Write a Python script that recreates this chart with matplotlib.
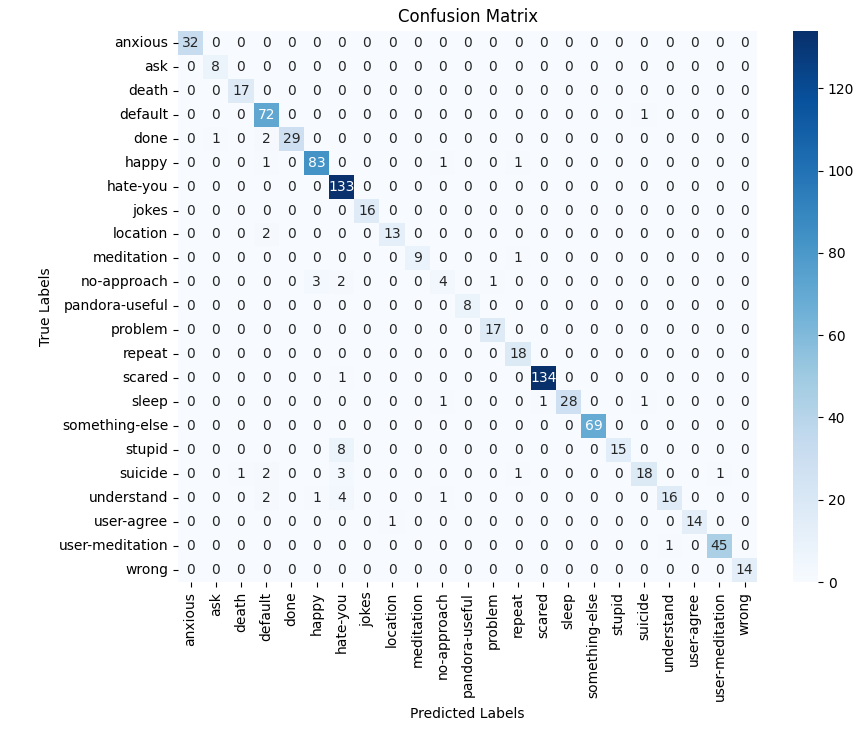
import matplotlib
matplotlib.use("Agg")
import matplotlib.pyplot as plt
import numpy as np
import seaborn as sns

labels = ["anxious", "ask", "death", "default", "done", "happy", "hate-you",
          "jokes", "location", "meditation", "no-approach", "pandora-useful",
          "problem", "repeat", "scared", "sleep", "something-else", "stupid",
          "suicide", "understand", "user-agree", "user-meditation", "wrong"]

# rows = true label, columns = predicted label
cm = np.array([
    [32, 0, 0, 0, 0, 0, 0, 0, 0, 0, 0, 0, 0, 0, 0, 0, 0, 0, 0, 0, 0, 0, 0],
    [0, 8, 0, 0, 0, 0, 0, 0, 0, 0, 0, 0, 0, 0, 0, 0, 0, 0, 0, 0, 0, 0, 0],
    [0, 0, 17, 0, 0, 0, 0, 0, 0, 0, 0, 0, 0, 0, 0, 0, 0, 0, 0, 0, 0, 0, 0],
    [0, 0, 0, 72, 0, 0, 0, 0, 0, 0, 0, 0, 0, 0, 0, 0, 0, 0, 1, 0, 0, 0, 0],
    [0, 1, 0, 2, 29, 0, 0, 0, 0, 0, 0, 0, 0, 0, 0, 0, 0, 0, 0, 0, 0, 0, 0],
    [0, 0, 0, 1, 0, 83, 0, 0, 0, 0, 1, 0, 0, 1, 0, 0, 0, 0, 0, 0, 0, 0, 0],
    [0, 0, 0, 0, 0, 0, 133, 0, 0, 0, 0, 0, 0, 0, 0, 0, 0, 0, 0, 0, 0, 0, 0],
    [0, 0, 0, 0, 0, 0, 0, 16, 0, 0, 0, 0, 0, 0, 0, 0, 0, 0, 0, 0, 0, 0, 0],
    [0, 0, 0, 2, 0, 0, 0, 0, 13, 0, 0, 0, 0, 0, 0, 0, 0, 0, 0, 0, 0, 0, 0],
    [0, 0, 0, 0, 0, 0, 0, 0, 0, 9, 0, 0, 0, 1, 0, 0, 0, 0, 0, 0, 0, 0, 0],
    [0, 0, 0, 0, 0, 3, 2, 0, 0, 0, 4, 0, 1, 0, 0, 0, 0, 0, 0, 0, 0, 0, 0],
    [0, 0, 0, 0, 0, 0, 0, 0, 0, 0, 0, 8, 0, 0, 0, 0, 0, 0, 0, 0, 0, 0, 0],
    [0, 0, 0, 0, 0, 0, 0, 0, 0, 0, 0, 0, 17, 0, 0, 0, 0, 0, 0, 0, 0, 0, 0],
    [0, 0, 0, 0, 0, 0, 0, 0, 0, 0, 0, 0, 0, 18, 0, 0, 0, 0, 0, 0, 0, 0, 0],
    [0, 0, 0, 0, 0, 0, 1, 0, 0, 0, 0, 0, 0, 0, 134, 0, 0, 0, 0, 0, 0, 0, 0],
    [0, 0, 0, 0, 0, 0, 0, 0, 0, 0, 1, 0, 0, 0, 1, 28, 0, 0, 1, 0, 0, 0, 0],
    [0, 0, 0, 0, 0, 0, 0, 0, 0, 0, 0, 0, 0, 0, 0, 0, 69, 0, 0, 0, 0, 0, 0],
    [0, 0, 0, 0, 0, 0, 8, 0, 0, 0, 0, 0, 0, 0, 0, 0, 0, 15, 0, 0, 0, 0, 0],
    [0, 0, 1, 2, 0, 0, 3, 0, 0, 0, 0, 0, 0, 1, 0, 0, 0, 0, 18, 0, 0, 1, 0],
    [0, 0, 0, 2, 0, 1, 4, 0, 0, 0, 1, 0, 0, 0, 0, 0, 0, 0, 0, 16, 0, 0, 0],
    [0, 0, 0, 0, 0, 0, 0, 0, 1, 0, 0, 0, 0, 0, 0, 0, 0, 0, 0, 0, 14, 0, 0],
    [0, 0, 0, 0, 0, 0, 0, 0, 0, 0, 0, 0, 0, 0, 0, 0, 0, 0, 0, 1, 0, 45, 0],
    [0, 0, 0, 0, 0, 0, 0, 0, 0, 0, 0, 0, 0, 0, 0, 0, 0, 0, 0, 0, 0, 0, 14],
])

fig = plt.figure(figsize=(8.62, 7.33), dpi=100)
ax = fig.add_axes([0.2065, 0.206, 0.672, 0.752])
cax = fig.add_axes([0.92, 0.206, 0.029, 0.752])

sns.heatmap(cm, annot=True, fmt="d", cmap="Blues", ax=ax, cbar_ax=cax,
            xticklabels=labels, yticklabels=labels)
ax.set_title("Confusion Matrix")
ax.set_xlabel("Predicted Labels")
ax.set_ylabel("True Labels")

fig.savefig("out.png", dpi=100)
